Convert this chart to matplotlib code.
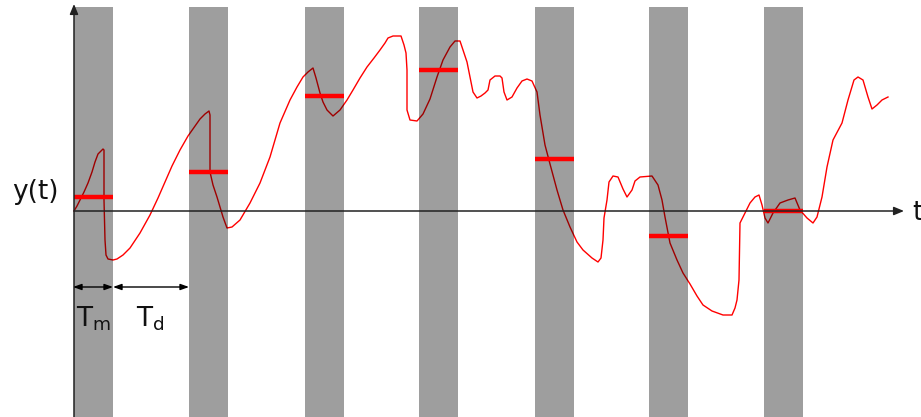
import matplotlib.pyplot as plt
import numpy as np

# measurement windows: start times, common width
band_start = [0, 115, 231, 345, 461, 575, 690]
band_width = 39
# mean of the signal over each window
window_mean = [14, 39, 115, 141, 52, -25, 0]

# traced signal y(t)
t = [0, 3, 6, 10, 14, 18, 21, 24, 27, 29, 30, 30, 31, 32, 34, 39, 43, 49, 56, 66,
     76, 84, 91, 98, 106, 114, 121, 126, 131, 135, 136, 136, 139, 143, 146, 149, 153,
     158, 166, 176, 186, 196, 206, 216, 223, 229, 234, 239, 242, 246, 249, 253, 259,
     266, 273, 279, 286, 293, 300, 306, 311, 314, 319, 327, 330, 332, 333, 333, 336,
     343, 349, 356, 363, 369, 376, 381, 386, 389, 393, 396, 399, 403, 407, 411, 414,
     416, 421, 426, 428, 430, 433, 438, 443, 448, 453, 458, 463, 466, 471, 476, 483,
     489, 496, 503, 509, 518, 524, 527, 529, 530, 533, 535, 539, 544, 549, 553, 558,
     561, 566, 578, 584, 588, 591, 596, 603, 609, 616, 623, 629, 638, 649, 658, 661,
     663, 665, 666, 669, 676, 681, 685, 688, 691, 694, 699, 706, 714, 721, 726, 733,
     739, 743, 748, 753, 759, 768, 774, 780, 784, 789, 794, 798, 803, 808, 814]
y = [0, 5, 11, 19, 28, 39, 49, 57, 60, 62, 61, 11, -29, -44, -48, -49, -48, -44, -37,
     -22, -4, 13, 29, 45, 61, 75, 85, 92, 97, 100, 96, 39, 26, 14, 4, -6, -17, -16,
     -9, 8, 28, 54, 88, 111, 124, 134, 139, 143, 133, 118, 109, 101, 95, 101, 111,
     121, 133, 144, 153, 161, 168, 173, 175, 175, 166, 158, 141, 101, 91, 90, 97, 112,
     134, 151, 164, 170, 170, 161, 149, 134, 119, 113, 115, 118, 121, 131, 135, 135,
     133, 119, 111, 114, 123, 130, 132, 130, 119, 96, 66, 47, 21, 1, -16, -31, -39,
     -47, -51, -47, -29, -7, 11, 29, 35, 34, 22, 14, 21, 30, 34, 35, 26, 11, -6, -32,
     -49, -62, -73, -85, -94, -100, -104, -104, -97, -89, -69, -12, -6, 8, 14, 16, 6,
     -7, -12, -2, 8, 11, 13, 1, -7, -12, -6, 14, 44, 71, 88, 111, 131, 134, 131, 114,
     102, 106, 111, 114]

fig = plt.figure(figsize=(9.21, 4.17), dpi=100)
ax = fig.add_axes([0, 0, 1, 1])
ax.set_xlim(-74, 847)
ax.set_ylim(-206, 211)
ax.axis("off")

ax.plot(t, y, color="red", lw=1.0, zorder=2)

for s in band_start:
    ax.axvspan(s, s + band_width, ymin=0.0, ymax=(211 - 7 + 206) / 417,
               color="black", alpha=0.38, lw=0, zorder=3)

for s, m in zip(band_start, window_mean):
    ax.plot([s, s + band_width], [m, m], color="red", lw=3.2,
            solid_capstyle="butt", zorder=4)

# axes with arrow heads
axis_kw = dict(arrowstyle="-|>,head_length=0.6,head_width=0.25",
               color="#222222", lw=1.1, shrinkA=0, shrinkB=0)
ax.annotate("", xy=(0, 207), xytext=(0, -206), arrowprops=axis_kw, zorder=5)
ax.annotate("", xy=(830, 0), xytext=(0, 0), arrowprops=axis_kw, zorder=5)
ax.text(838, -2, "t", fontsize=19, ha="left", va="center", color="#111111")
ax.text(-39, 19, "y(t)", fontsize=19, ha="center", va="center", color="#111111")

# window length and gap
dim_kw = dict(arrowstyle="<|-|>,head_length=0.5,head_width=0.18",
              color="black", lw=1.0, shrinkA=0, shrinkB=0)
ax.annotate("", xy=(-1, -76), xytext=(band_width, -76), arrowprops=dim_kw, zorder=5)
ax.annotate("", xy=(band_width, -76), xytext=(band_start[1], -76),
            arrowprops=dim_kw, zorder=5)
ax.text(19, -108, r"$\mathregular{T_m}$", fontsize=19, ha="center", va="center",
        color="#111111")
ax.text(76, -108, r"$\mathregular{T_d}$", fontsize=19, ha="center", va="center",
        color="#111111")

fig.savefig("out.png", dpi=100)
